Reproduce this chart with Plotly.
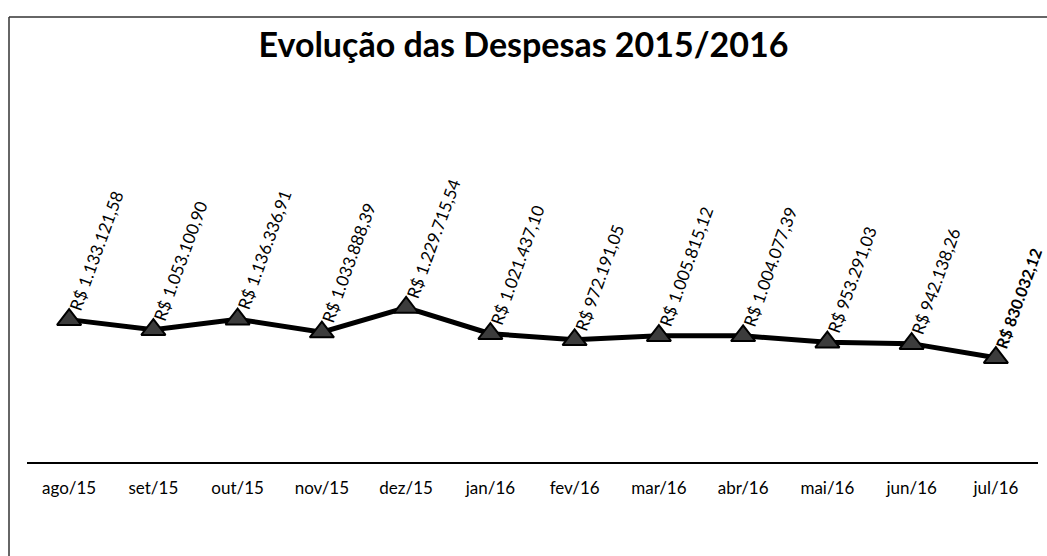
import plotly.graph_objects as go

months = ["ago/15", "set/15", "out/15", "nov/15", "dez/15", "jan/16",
          "fev/16", "mar/16", "abr/16", "mai/16", "jun/16", "jul/16"]
despesas = [1133121.58, 1053100.90, 1136336.91, 1033888.39, 1229715.54, 1021437.10,
            972191.05, 1005815.12, 1004077.39, 953291.03, 942138.26, 830032.12]
title_text = "Evolução das Despesas 2015/2016"


def brl(v):
    s = f"{v:,.2f}"
    s = s.replace(",", "X").replace(".", ",").replace("X", ".")
    return "R$ " + s


W, H = 1047, 556
L, R, T, B = 27, 9, 70, 94
pw, ph = W - L - R, H - T - B
FONT = "Lato, Noto Sans, sans-serif"

fig = go.Figure()
fig.add_trace(go.Scatter(
    x=months, y=despesas, mode="lines+markers",
    line=dict(color="black", width=5),
    marker=dict(symbol="triangle-up", size=21, color="#3c3c3c",
                line=dict(color="black", width=2)),
    hoverinfo="x+y", showlegend=False,
))

for i, (m, v) in enumerate(zip(months, despesas)):
    txt = brl(v)
    size = 17
    if i == len(months) - 1:
        txt = "<b>" + txt + "</b>"
        size = 16
    fig.add_annotation(
        x=m, y=v, xref="x", yref="y", text=txt, showarrow=False,
        textangle=-70, xanchor="left", yanchor="bottom",
        xshift=-7, yshift=4,
        font=dict(family=FONT, size=size, color="black"),
    )


def px_x(p):
    return (p - L) / pw


def px_y(p):
    return (H - B - p) / ph


fig.add_shape(type="line", xref="paper", yref="paper",
              x0=px_x(9), y0=px_y(560), x1=px_x(9), y1=px_y(17),
              line=dict(color="#333333", width=1.5))
fig.add_shape(type="line", xref="paper", yref="paper",
              x0=px_x(9), y0=px_y(17), x1=px_x(1050), y1=px_y(17),
              line=dict(color="#333333", width=1.5))

fig.update_layout(
    width=W, height=H,
    margin=dict(l=L, r=R, t=T, b=B),
    paper_bgcolor="white", plot_bgcolor="white",
    title=dict(text="<b>" + title_text + "</b>", x=0.5, xref="container",
               xanchor="center", y=1 - 45 / H, yanchor="middle",
               font=dict(family=FONT, size=34, color="black")),
    xaxis=dict(type="category", range=[-0.5, 11.5], showgrid=False, zeroline=False,
               showline=True, linecolor="black", linewidth=2, ticks="",
               ticklabelstandoff=10,
               tickfont=dict(family=FONT, size=17, color="black")),
    yaxis=dict(range=[0, 3120000], visible=False, showgrid=False, zeroline=False),
)

fig.write_html("out.html", config={"displayModeBar": False},
               post_script="document.body.style.margin='0';document.body.style.overflow='hidden';")
